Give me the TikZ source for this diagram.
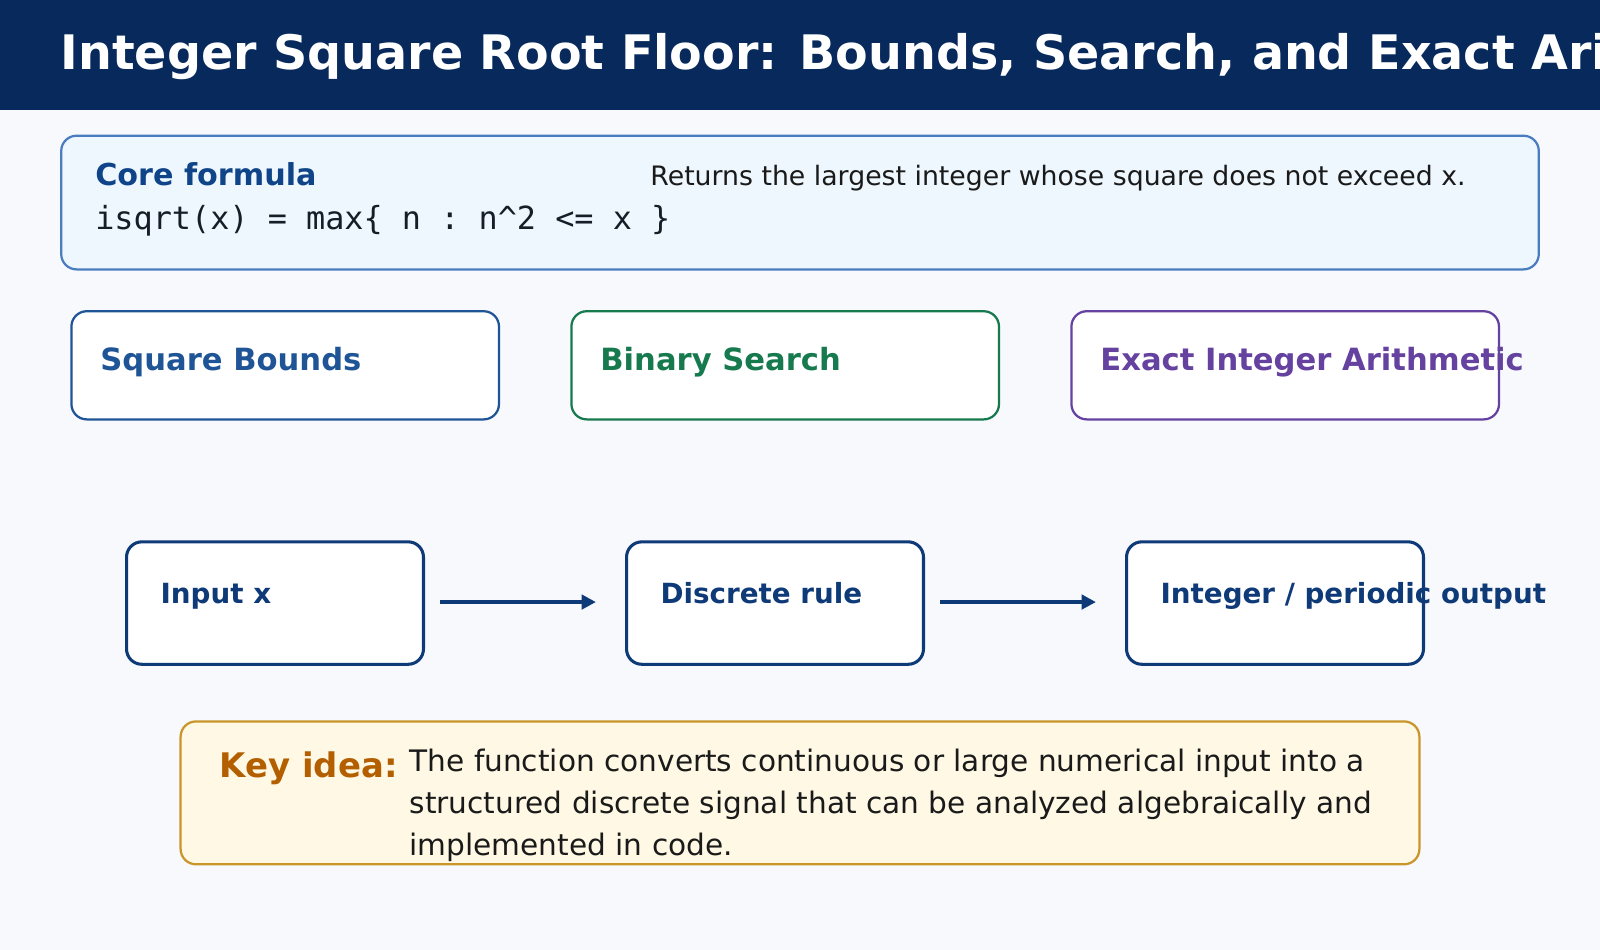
\documentclass[tikz,border=0pt]{standalone}
\usepackage{fontspec}
\setmainfont{DejaVu Sans}
\setmonofont{DejaVu Sans Mono}
\usetikzlibrary{arrows.meta}
\definecolor{navy}{HTML}{08295C}
\definecolor{bgc}{HTML}{F7F9FD}
\definecolor{corefill}{HTML}{EEF7FE}
\definecolor{corestroke}{HTML}{4A7DBF}
\definecolor{coretext}{HTML}{0F4488}
\definecolor{cblue}{HTML}{1F5596}
\definecolor{cgreen}{HTML}{177A4E}
\definecolor{cpurple}{HTML}{6541A0}
\definecolor{flow}{HTML}{0F3A78}
\definecolor{keyfill}{HTML}{FEF8E4}
\definecolor{keystroke}{HTML}{C9962A}
\definecolor{keytext}{HTML}{B35F00}
\definecolor{ink}{HTML}{1A1A1A}
\tikzset{
  box/.style={rounded corners=7.5pt, line width=1.1pt},
  lbl/.style={anchor=base west, inner sep=0pt},
  arr/.style={-{Triangle[length=7pt,width=7pt]}, line width=2pt, flow},
}
\begin{document}
\begin{tikzpicture}[x=0.5pt,y=-0.5pt]
\useasboundingbox (0,0) rectangle (1568,931);
\clip (0,0) rectangle (1568,931);
\fill[bgc] (0,0) rectangle (1568,931);
\fill[navy] (0,0) rectangle (1568,108);
\node[lbl, text=white, font=\fontsize{23.3}{28}\selectfont\bfseries] (title) at (59,68) {Integer Square Root Floor: Bounds, Search, and Exact Arithmetic};
% core
\draw[box, fill=corefill, draw=corestroke] (60,133) rectangle (1508,264);
\node[lbl, text=coretext, font=\fontsize{14.8}{18}\selectfont\bfseries] (ct) at (93,182) {Core formula};
\node[lbl, text=ink, font=\fontsize{13.1}{16}\selectfont] (cd) at (637,182) {Returns the largest integer whose square does not exceed x.};
\node[lbl, text=ink!80!navy, font=\fontsize{15.6}{18}\selectfont\ttfamily] (cf) at (93,225) {isqrt(x) = max\{ n : n\textasciicircum2 <= x \}};
% three boxes
\draw[box, fill=white, draw=cblue] (70,305) rectangle (489,411);
\node[lbl, text=cblue, font=\fontsize{15}{18}\selectfont\bfseries] (b1) at (98,363) {Square Bounds};
\draw[box, fill=white, draw=cgreen] (560,305) rectangle (979,411);
\node[lbl, text=cgreen, font=\fontsize{15}{18}\selectfont\bfseries] (b2) at (588,363) {Binary Search};
\draw[box, fill=white, draw=cpurple] (1050,305) rectangle (1469,411);
\node[lbl, text=cpurple, font=\fontsize{15}{18}\selectfont\bfseries] (b3) at (1078,363) {Exact Integer Arithmetic};
% flow
\draw[box, fill=white, draw=flow, line width=1.5pt] (124,531) rectangle (415,651);
\node[lbl, text=flow, font=\fontsize{13.6}{16}\selectfont\bfseries] (f1) at (157,591) {Input x};
\draw[box, fill=white, draw=flow, line width=1.5pt] (614,531) rectangle (905,651);
\node[lbl, text=flow, font=\fontsize{13.6}{16}\selectfont\bfseries] (f2) at (647,591) {Discrete rule};
\draw[box, fill=white, draw=flow, line width=1.5pt] (1104,531) rectangle (1395,651);
\node[lbl, text=flow, font=\fontsize{13.6}{16}\selectfont\bfseries] (f3) at (1137,591) {Integer / periodic output};
\coordinate (a1s) at (431,590); \coordinate (a1e) at (584,590);
\coordinate (a2s) at (921,590); \coordinate (a2e) at (1074,590);
\draw[arr] (a1s) -- (a1e);
\draw[arr] (a2s) -- (a2e);
% key idea
\draw[box, fill=keyfill, draw=keystroke] (177,707) rectangle (1391,847);
\node[lbl, text=keytext, font=\fontsize{16.6}{20}\selectfont\bfseries] (k) at (215,762) {Key idea:};
\node[anchor=north west, inner sep=0pt, text=ink, font=\fontsize{14.5}{20.5}\selectfont, align=left] (kt) at (401,734) {The function converts continuous or large numerical input into a\\structured discrete signal that can be analyzed algebraically and\\implemented in code.};
\end{tikzpicture}
\end{document}
